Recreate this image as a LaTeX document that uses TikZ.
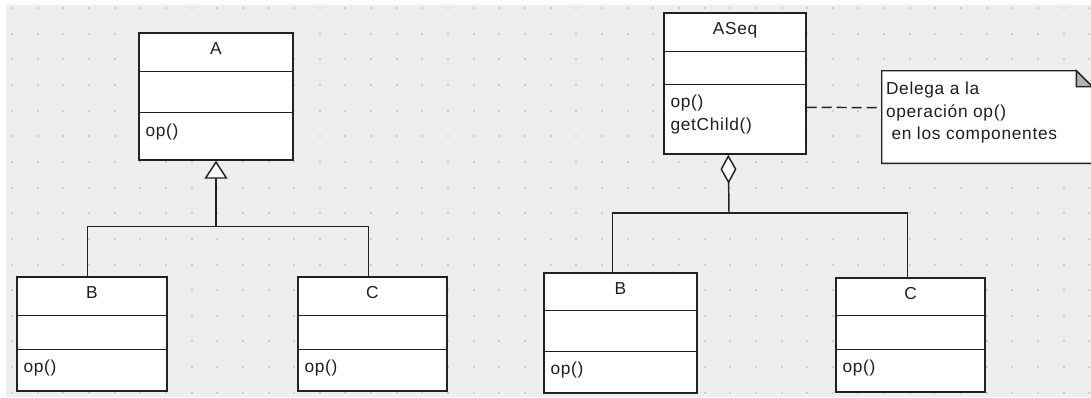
\documentclass[tikz,border=0pt]{standalone}
\usepackage{fontspec}
\setmainfont{Liberation Sans}[LetterSpace=4]
\usetikzlibrary{arrows.meta,calc,fit}
\definecolor{bgc}{HTML}{EEEEEE}
\definecolor{dotc}{HTML}{CFCFCF}
\definecolor{linec}{HTML}{222222}
\definecolor{foldc}{HTML}{B4B4B4}
\begin{document}
\begin{tikzpicture}[x=0.75pt,y=-0.75pt,
  cls/.style={draw=linec, line width=1.1pt, fill=white, rectangle, inner sep=0pt},
  divider/.style={draw=linec, line width=1.1pt},
  conn/.style={draw=linec, line width=1.1pt},
  txt/.style={inner sep=0pt, font=\fontsize{13pt}{15pt}\selectfont, text=black!88},
  mtxt/.style={txt, anchor=base west},
  ntxt/.style={txt, anchor=base},
  notebox/.style={draw=linec, line width=1.1pt, fill=white},
  notelink/.style={draw=linec, line width=1.1pt, dash pattern=on 7.5pt off 3.75pt}
]
\useasboundingbox (0,0) rectangle (1091,397);
\fill[white] (0,0) rectangle (1091,397);
\fill[bgc] (6,5) rectangle (1091,397);
\foreach \i in {0,...,42}{
  \foreach \j in {0,...,15}{
    \fill[dotc] ({12+25.65*\i-1},{8+25.65*\j-1}) rectangle +(2,2);
  }
}

% ---------- left diagram ----------
\node[cls, fit={(139,33) (293,160)}] (A) {};
\draw[divider] ($(A.north west)+(0,39)$) -- ($(A.north east)+(0,39)$);
\draw[divider] ($(A.north west)+(0,80)$) -- ($(A.north east)+(0,80)$);
\node[ntxt] (Aname) at ($(A.north)+(0,22)$) {A};
\node[mtxt] (Aop) at ($(A.north west)+(7,104)$) {op()};

\node[cls, fit={(17,277) (167,391)}] (B1) {};
\draw[divider] ($(B1.north west)+(0,39)$) -- ($(B1.north east)+(0,39)$);
\draw[divider] ($(B1.north west)+(0,73)$) -- ($(B1.north east)+(0,73)$);
\node[ntxt] (B1name) at ($(B1.north)+(0,22)$) {B};
\node[mtxt] (B1op) at ($(B1.north west)+(7,96)$) {op()};

\node[cls, fit={(298,277) (447,391)}] (C1) {};
\draw[divider] ($(C1.north west)+(0,39)$) -- ($(C1.north east)+(0,39)$);
\draw[divider] ($(C1.north west)+(0,73)$) -- ($(C1.north east)+(0,73)$);
\node[ntxt] (C1name) at ($(C1.north)+(0,22)$) {C};
\node[mtxt] (C1op) at ($(C1.north west)+(7,96)$) {op()};

\coordinate (jA) at ($(A.south)+(0,66)$);
\coordinate (b1t) at ($(B1.north west)+(71,0)$);
\coordinate (c1t) at ($(C1.north west)+(71,0)$);
\draw[conn] (b1t) |- (jA) -| (c1t);
\draw[conn, -{Triangle[fill=white, length=13.5pt, width=17.25pt]}] (jA) -- (A.south);

% ---------- right diagram ----------
\node[cls, fit={(664,13) (806,154)}] (S) {};
\draw[divider] ($(S.north west)+(0,39)$) -- ($(S.north east)+(0,39)$);
\draw[divider] ($(S.north west)+(0,72)$) -- ($(S.north east)+(0,72)$);
\node[ntxt] (Sname) at ($(S.north)+(0,22)$) {ASeq};
\node[mtxt] (Sop) at ($(S.north west)+(7,95)$) {op()};
\node[mtxt] (Sget) at ($(S.north west)+(7,118.5)$) {getChild()};

\node[inner sep=0pt, fit={(882,71) (1092,163)}] (N) {};
\draw[notebox] (N.north west) -- ($(N.north east)+(-16,0)$) -- ($(N.north east)+(0,16)$)
  -- (N.south east) -- (N.south west) -- cycle;
\draw[notebox, fill=foldc] ($(N.north east)+(-16,0)$) -- ($(N.north east)+(-16,16)$)
  -- ($(N.north east)+(0,16)$) -- cycle;
\node[mtxt] (N1) at ($(N.north west)+(4,24)$) {Delega a la};
\node[mtxt] (N2) at ($(N.north west)+(4,46.5)$) {operación op()};
\node[mtxt] (N3) at ($(N.north west)+(4,69)$) {\ en los componentes};
\draw[notelink] ($(S.north east)+(0,95)$) -- ($(N.north west)+(0,37)$);

\node[cls, fit={(544,273) (697,393)}] (B2) {};
\draw[divider] ($(B2.north west)+(0,38)$) -- ($(B2.north east)+(0,38)$);
\draw[divider] ($(B2.north west)+(0,79)$) -- ($(B2.north east)+(0,79)$);
\node[ntxt] (B2name) at ($(B2.north)+(0,22)$) {B};
\node[mtxt] (B2op) at ($(B2.north west)+(7,102)$) {op()};

\node[cls, fit={(836,278) (985,392)}] (C2) {};
\draw[divider] ($(C2.north west)+(0,38)$) -- ($(C2.north east)+(0,38)$);
\draw[divider] ($(C2.north west)+(0,72)$) -- ($(C2.north east)+(0,72)$);
\node[ntxt] (C2name) at ($(C2.north)+(0,22)$) {C};
\node[mtxt] (C2op) at ($(C2.north west)+(7,95)$) {op()};

\coordinate (jS) at (729,213);
\coordinate (b2t) at ($(B2.north west)+(69,0)$);
\coordinate (c2t) at ($(C2.north west)+(72,0)$);
\coordinate (sb) at ($(S.south west)+(65,0)$);
\draw[conn] (b2t) |- (jS) -| (c2t);
\draw[conn, -{Diamond[fill=white, length=21.75pt, width=12pt]}] (jS) -- (sb);
\end{tikzpicture}
\end{document}
